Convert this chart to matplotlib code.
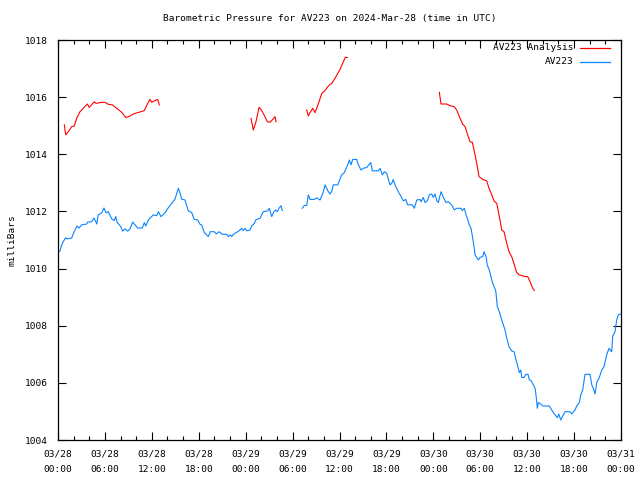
import matplotlib
matplotlib.use('Agg')
import matplotlib.pyplot as plt
import matplotlib.dates as mdates
import numpy as np
from datetime import datetime, timedelta

nan = np.nan
start = datetime(2024, 3, 28, 0, 0)

# AV223 observations: hours after 03/28 00:00 UTC, pressure in mbar (nan = gap)
obs_hours = [
    0.0, 0.26, 0.47, 0.64, 0.98, 1.15, 1.75, 2.05, 2.43, 2.69, 3.03, 3.67, 3.80, 4.31,
    4.60, 4.86, 4.95, 5.15, 5.59, 5.88, 6.14, 6.43, 6.87, 7.20, 7.38, 7.58, 8.02, 8.27,
    8.57, 8.91, 9.21, 9.55, 9.85, 10.19, 10.78, 11.04, 11.22, 11.55, 12.19, 12.62, 12.83,
    13.17, 13.68, 14.11, 14.54, 14.96, 15.39, 15.60, 15.82, 16.24, 16.66, 17.10, 17.43,
    17.87, 18.16, 18.37, 18.71, 19.22, 19.48, 19.99, 20.25, 20.59, 21.01, 21.58, 21.78,
    22.00, 22.22, 22.42, 22.98, 23.28, 23.49, 23.70, 23.92, 24.13, 24.56, 24.77, 25.11,
    25.28, 25.83, 26.05, 26.26, 26.82, 27.02, 27.33, 27.62, 27.84, 28.05, 28.26, 28.52,
    28.69, 30.0,
    31.24, 31.50, 31.81, 32.01, 32.23, 32.78, 33.09, 33.51, 33.73, 33.93, 34.15, 34.49,
    34.79, 35.00, 35.21, 35.77, 36.07, 36.28, 36.62, 36.71, 37.05, 37.26, 37.47, 37.69,
    38.20, 38.41, 38.75, 39.05, 39.48, 39.99, 40.20, 40.96, 41.18, 41.48, 41.73, 42.04,
    42.46, 42.68, 42.88, 43.10, 43.52, 43.96, 44.16, 44.47, 44.72, 45.31, 45.57, 45.88,
    46.30, 46.43, 46.72, 46.94, 47.28, 47.49, 47.79, 48.00, 48.22, 48.43, 48.64, 48.98,
    49.28, 49.62, 49.92, 50.35, 50.68, 50.99, 51.54, 51.71, 51.96, 52.18, 52.40, 52.60,
    52.82, 53.04, 53.24, 53.33, 53.75, 53.97, 54.32, 54.48, 54.74, 54.90, 55.16, 55.47,
    55.67, 55.98, 56.18, 56.44, 56.75, 57.17, 57.39, 57.68, 58.02, 58.32, 58.58, 58.87,
    59.00, 59.18, 59.31, 59.60, 59.85, 60.11, 60.28, 60.49, 60.79, 61.01, 61.13, 61.30,
    61.43, 61.64, 61.99, 62.83, 63.14, 63.56, 63.86, 64.04, 64.29, 64.62, 64.84, 65.48,
    65.70, 66.12, 66.34, 66.67, 66.85, 67.10, 67.40, 68.04, 68.26, 68.46, 68.68, 68.90,
    69.23, 69.54, 69.83, 70.17, 70.47, 70.81, 70.94, 71.24, 71.45, 71.66, 72.00,
]
obs_mbar = [
    1010.55, 1010.62, 1010.83, 1010.93, 1011.08, 1011.04, 1011.07, 1011.28, 1011.49,
    1011.42, 1011.53, 1011.56, 1011.63, 1011.64, 1011.77, 1011.63, 1011.56, 1011.88,
    1011.95, 1012.12, 1011.95, 1011.99, 1011.74, 1011.68, 1011.82, 1011.61, 1011.47,
    1011.31, 1011.39, 1011.31, 1011.39, 1011.63, 1011.53, 1011.42, 1011.42, 1011.61,
    1011.49, 1011.70, 1011.88, 1011.85, 1011.99, 1011.82, 1011.95, 1012.13, 1012.28,
    1012.43, 1012.81, 1012.65, 1012.43, 1012.40, 1012.02, 1011.96, 1011.72, 1011.70,
    1011.55, 1011.53, 1011.26, 1011.12, 1011.29, 1011.29, 1011.21, 1011.29, 1011.20,
    1011.20, 1011.12, 1011.18, 1011.12, 1011.20, 1011.29, 1011.35, 1011.41, 1011.33,
    1011.41, 1011.32, 1011.35, 1011.49, 1011.58, 1011.70, 1011.76, 1011.88, 1011.99,
    1012.02, 1012.11, 1011.82, 1011.99, 1012.05, 1011.99, 1012.11, 1012.20, 1012.03,
    nan,
    1012.11, 1012.21, 1012.21, 1012.58, 1012.42, 1012.42, 1012.48, 1012.40, 1012.54,
    1012.69, 1012.93, 1012.73, 1012.61, 1012.69, 1012.93, 1012.93, 1013.14, 1013.28,
    1013.36, 1013.42, 1013.63, 1013.80, 1013.63, 1013.82, 1013.82, 1013.63, 1013.45,
    1013.51, 1013.54, 1013.71, 1013.42, 1013.42, 1013.51, 1013.28, 1013.39, 1013.33,
    1012.93, 1012.98, 1013.12, 1012.93, 1012.69, 1012.48, 1012.37, 1012.42, 1012.23,
    1012.23, 1012.11, 1012.40, 1012.42, 1012.34, 1012.49, 1012.31, 1012.40, 1012.58,
    1012.61, 1012.49, 1012.61, 1012.38, 1012.31, 1012.69, 1012.49, 1012.31, 1012.34,
    1012.23, 1012.05, 1012.11, 1012.11, 1012.03, 1012.11, 1011.88, 1011.72, 1011.53,
    1011.41, 1011.06, 1010.71, 1010.48, 1010.30, 1010.39, 1010.42, 1010.59, 1010.42,
    1010.12, 1009.95, 1009.60, 1009.43, 1009.23, 1008.67, 1008.49, 1008.20, 1007.85,
    1007.56, 1007.27, 1007.12, 1007.09, 1006.80, 1006.51, 1006.36, 1006.45, 1006.19,
    1006.19, 1006.30, 1006.30, 1006.10, 1006.08, 1005.93, 1005.81, 1005.58, 1005.11,
    1005.31, 1005.28, 1005.19, 1005.19, 1005.05, 1004.88, 1004.78, 1004.91, 1004.70,
    1004.88, 1004.99, 1004.99, 1004.91, 1005.05, 1005.19, 1005.31, 1005.58, 1005.75,
    1006.30, 1006.30, 1005.93, 1005.81, 1005.61, 1006.01, 1006.19, 1006.45, 1006.57,
    1006.98, 1007.21, 1007.09, 1007.64, 1007.79, 1008.20, 1008.38, 1008.41,
]

# AV223 Analysis
ana_hours = [
    0.81, 0.98, 1.32, 1.75, 2.08, 2.39, 2.81, 3.24, 3.75, 4.00, 4.64, 4.86, 5.37, 6.01,
    6.43, 6.94, 7.51, 8.15, 8.66, 9.08, 9.63, 10.19, 10.62, 11.04, 11.47, 11.77, 11.98,
    12.41, 12.75, 12.96, 18.0,
    24.68, 24.98, 25.32, 25.71, 25.96, 26.35, 26.77, 27.11, 27.46, 27.75, 27.88, 30.0,
    31.81, 32.01, 32.23, 32.57, 32.87, 33.09, 33.38, 33.73, 34.15, 34.57, 35.00, 35.43,
    35.77, 36.07, 36.49, 36.74, 37.00, 42.0,
    48.77, 48.98, 49.71, 50.13, 50.65, 50.99, 51.32, 51.76, 52.05, 52.47, 52.69, 52.99,
    53.33, 53.63, 53.84, 54.32, 54.83, 55.12, 55.47, 55.76, 56.11, 56.44, 56.75, 57.04,
    57.39, 57.72, 58.02, 58.36, 58.66, 59.00, 59.73, 60.07, 60.37, 60.71, 60.92,
]
ana_mbar = [
    1015.03, 1014.68, 1014.79, 1014.97, 1014.99, 1015.26, 1015.49, 1015.61, 1015.76,
    1015.64, 1015.84, 1015.78, 1015.81, 1015.82, 1015.75, 1015.73, 1015.61, 1015.47,
    1015.29, 1015.32, 1015.41, 1015.46, 1015.49, 1015.53, 1015.78, 1015.92, 1015.82,
    1015.88, 1015.92, 1015.73, nan,
    1015.26, 1014.85, 1015.14, 1015.64, 1015.57, 1015.38, 1015.14, 1015.12, 1015.22,
    1015.32, 1015.14, nan,
    1015.55, 1015.34, 1015.46, 1015.61, 1015.46, 1015.61, 1015.84, 1016.13, 1016.23,
    1016.39, 1016.48, 1016.66, 1016.83, 1016.97, 1017.24, 1017.39, 1017.39, nan,
    1016.17, 1015.76, 1015.76, 1015.70, 1015.67, 1015.55, 1015.32, 1015.05, 1014.97,
    1014.62, 1014.44, 1014.42, 1013.98, 1013.57, 1013.22, 1013.12, 1013.07, 1012.81,
    1012.58, 1012.37, 1012.28, 1011.82, 1011.35, 1011.29, 1010.88, 1010.56, 1010.42,
    1010.13, 1009.86, 1009.78, 1009.72, 1009.72, 1009.54, 1009.31, 1009.23,
]

red = '#ff0000'
blue = '#0a84ff'
mono = 'DejaVu Sans Mono'
fs = 6.8

obs_t = [start + timedelta(hours=h) for h in obs_hours]
ana_t = [start + timedelta(hours=h) for h in ana_hours]

fig = plt.figure(figsize=(6.4, 4.8), dpi=100, facecolor='white')
ax = fig.add_axes([58 / 640, 40 / 480, 563 / 640, 400 / 480])

ax.plot(ana_t, ana_mbar, color=red, lw=0.8)
ax.plot(obs_t, obs_mbar, color=blue, lw=0.8)

ax.set_xlim(start, start + timedelta(hours=72))
ax.set_ylim(1004, 1018)
ax.set_yticks(np.arange(1004, 1019, 2))

ax.xaxis.set_major_locator(mdates.HourLocator(byhour=range(0, 24, 6)))
ax.xaxis.set_minor_locator(mdates.HourLocator(interval=2))
ax.xaxis.set_major_formatter(mdates.DateFormatter('%m/%d\n%H:%M'))

ax.tick_params(which='major', direction='in', length=6, width=0.8,
               top=True, right=True, labelsize=fs)
ax.tick_params(which='minor', direction='in', length=3, width=0.8,
               top=True, right=True)
ax.tick_params(axis='x', which='major', pad=7)
ax.tick_params(axis='y', which='major', pad=7)
for lab in ax.get_xticklabels() + ax.get_yticklabels():
    lab.set_family(mono)
for lab in ax.get_xticklabels():
    lab.set_linespacing(1.85)
for spine in ax.spines.values():
    spine.set_linewidth(0.9)

ax.set_ylabel('milliBars', family=mono, fontsize=fs, labelpad=6)
fig.text(330 / 640, 1 - 19 / 480, 'Barometric Pressure for AV223 on 2024-Mar-28 (time in UTC)',
         ha='center', va='center', family=mono, fontsize=fs)

# gnuplot-style key, right-aligned labels with the sample after them
key_rows = [('AV223 Analysis', red, 0.980), ('AV223', blue, 0.945)]
for label, col, yk in key_rows:
    ax.text(0.915, yk, label, transform=ax.transAxes, ha='right', va='center',
            family=mono, fontsize=fs)
    ax.plot([0.927, 0.980], [yk, yk], transform=ax.transAxes, color=col, lw=0.9)

fig.savefig('out.png', dpi=100)
